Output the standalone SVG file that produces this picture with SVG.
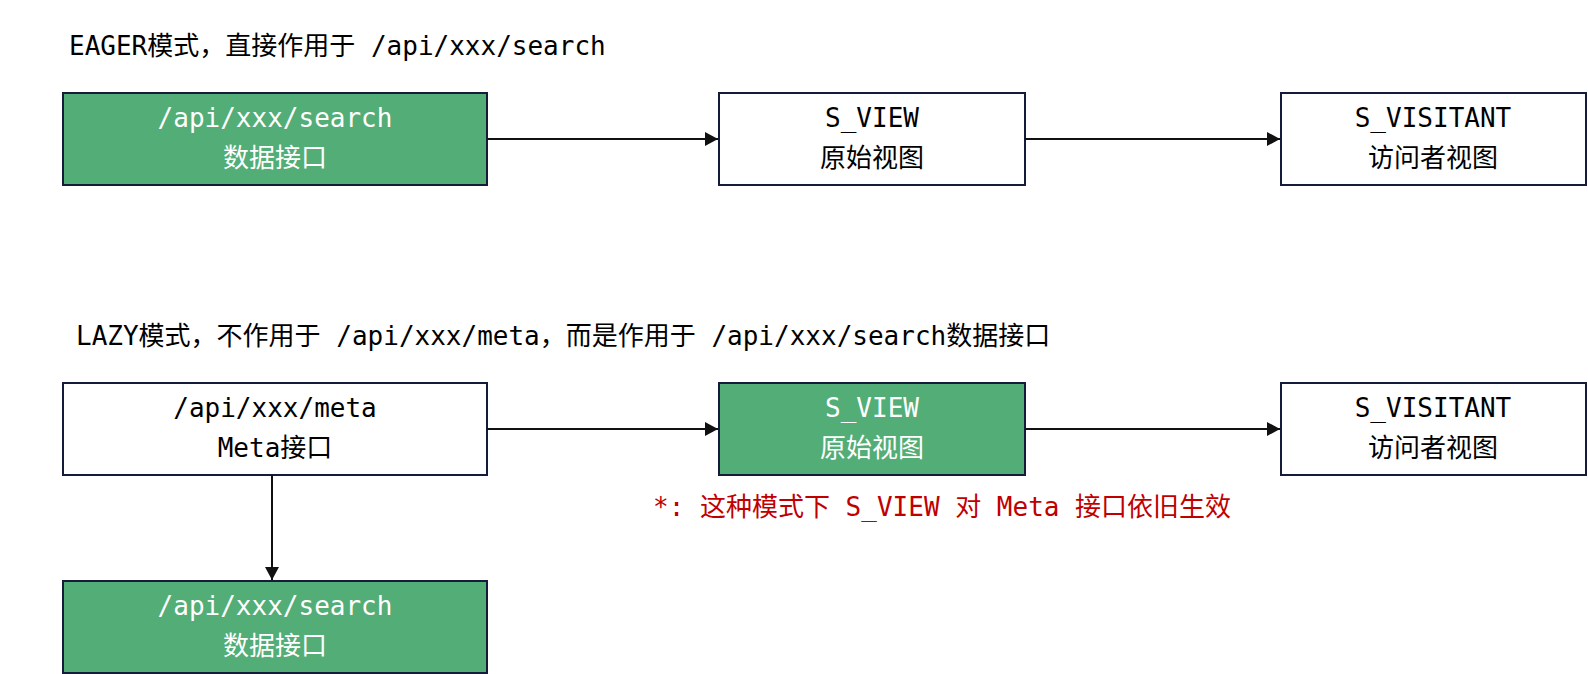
<svg xmlns="http://www.w3.org/2000/svg" width="1588" height="674" viewBox="0 0 1588 674">
<defs>
<marker id="arr" markerWidth="13" markerHeight="14" refX="13" refY="7" orient="auto" markerUnits="userSpaceOnUse">
<path d="M0,0 L13,7 L0,14 Z" fill="#111"/>
</marker>
<style>
text{font-family:"DejaVu Sans Mono","Liberation Mono","Noto Sans CJK SC",monospace;font-size:26px;}
.t{fill:#000;}
.n text{text-anchor:middle;}
.w rect{fill:#fff;stroke:#141c3a;stroke-width:2;}
.g rect{fill:#52ad77;stroke:#141c3a;stroke-width:2;}
.w text{fill:#000;}
.g text{fill:#fff;}
.red{fill:#c00000;}
.c line{stroke:#111;stroke-width:2;marker-end:url(#arr);}
</style>
</defs>
<rect width="1588" height="674" fill="#fff"/>
<text class="t" x="69" y="55">EAGER模式，直接作用于 /api/xxx/search</text>
<text class="t" x="76" y="345">LAZY模式，不作用于 /api/xxx/meta，而是作用于 /api/xxx/search数据接口</text>
<text class="red" x="653" y="516">*: 这种模式下 S_VIEW 对 Meta 接口依旧生效</text>
<g id="a1" class="n g"><rect x="63" y="93" width="424" height="92"/><text x="275" y="127">/api/xxx/search</text><text x="275" y="167">数据接口</text></g>
<g id="b1" class="n w"><rect x="719" y="93" width="306" height="92"/><text x="872" y="127">S_VIEW</text><text x="872" y="167">原始视图</text></g>
<g id="c1" class="n w"><rect x="1281" y="93" width="305" height="92"/><text x="1433" y="127">S_VISITANT</text><text x="1433" y="167">访问者视图</text></g>
<g id="a2" class="n w"><rect x="63" y="383" width="424" height="92"/><text x="275" y="417">/api/xxx/meta</text><text x="275" y="457">Meta接口</text></g>
<g id="b2" class="n g"><rect x="719" y="383" width="306" height="92"/><text x="872" y="417">S_VIEW</text><text x="872" y="457">原始视图</text></g>
<g id="c2" class="n w"><rect x="1281" y="383" width="305" height="92"/><text x="1433" y="417">S_VISITANT</text><text x="1433" y="457">访问者视图</text></g>
<g id="a3" class="n g"><rect x="63" y="581" width="424" height="92"/><text x="275" y="615">/api/xxx/search</text><text x="275" y="655">数据接口</text></g>
<g id="connectors" class="c">
<line x1="487" y1="139" x2="718" y2="139"/>
<line x1="1025" y1="139" x2="1280" y2="139"/>
<line x1="487" y1="429" x2="718" y2="429"/>
<line x1="1025" y1="429" x2="1280" y2="429"/>
<line x1="272" y1="475" x2="272" y2="580"/>
</g>
</svg>
